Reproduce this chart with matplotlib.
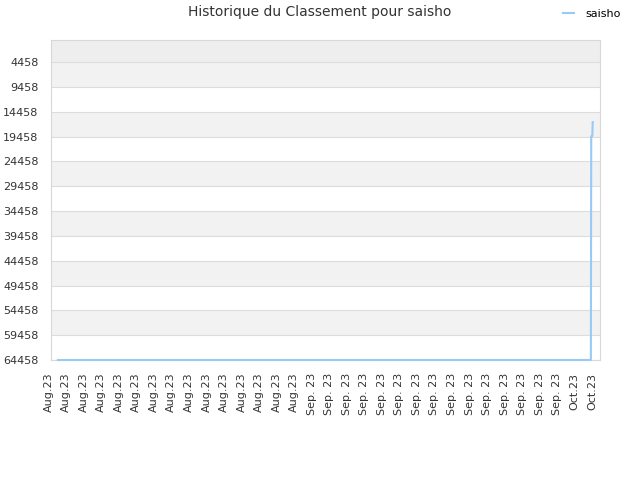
import matplotlib
matplotlib.use("Agg")
import matplotlib.pyplot as plt
import matplotlib.transforms as mtransforms
from datetime import datetime, timedelta

title = "Historique du Classement pour saisho"
player = "saisho"

# rank history
dates = [datetime(2023, 8, 3, 19), datetime(2023, 10, 3, 13), datetime(2023, 10, 3, 14),
         datetime(2023, 10, 3, 17), datetime(2023, 10, 3, 18)]
ranks = [64458, 64458, 19354, 19354, 16536]

y_ticks = list(range(4458, 64459, 5000))
first_tick = datetime(2023, 8, 3)
tick_dates = [first_tick + timedelta(days=2 * i) for i in range(32)]
tick_labels = [d.strftime("%b.%y") if d.month != 9 else "Sep. 23" for d in tick_dates]

fig = plt.figure(figsize=(6.4, 4.8), dpi=100)
ax = fig.add_axes([0.0797, 0.25, 0.8578, 0.6667])

# banded background
ax.axhspan(1, y_ticks[0], color="#eeeeee", zorder=0, lw=0)
for i in range(len(y_ticks) - 1):
    if i % 2 == 0:
        ax.axhspan(y_ticks[i], y_ticks[i + 1], color="#f2f2f2", zorder=0, lw=0)
for y in y_ticks:
    ax.axhline(y, color="#dddddd", lw=0.8, zorder=1)

ax.plot(dates, ranks, color="#99c9f5", lw=1.5, label=player, zorder=3, clip_on=False)

ax.set_ylim(64458, 1)
ax.set_yticks(y_ticks)
ax.set_xlim(datetime(2023, 8, 3), datetime(2023, 10, 4, 14))
ax.set_xticks(tick_dates)
ax.set_xticklabels(tick_labels, rotation=90)
ax.tick_params(axis="both", labelsize=8, colors="#333333", length=0)
ax.tick_params(axis="y", pad=9)
ax.tick_params(axis="x", pad=9)
shift = mtransforms.ScaledTranslation(-2.5 / 100, 0, fig.dpi_scale_trans)
for lab in ax.get_xticklabels():
    lab.set_transform(lab.get_transform() + shift)
for s in ax.spines.values():
    s.set_color("#d8d8d8")

fig.text(0.5, 0.975, title, ha="center", va="center", fontsize=10, color="#333333")
fig.legend(loc="upper right", bbox_to_anchor=(0.985, 1.003), frameon=False, fontsize=8,
           handlelength=1.0, handletextpad=1.0)

fig.savefig("out.png", dpi=100)
